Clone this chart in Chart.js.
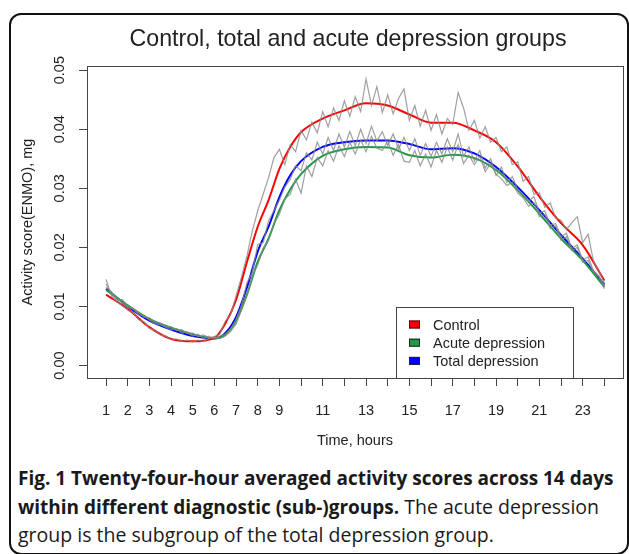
<!DOCTYPE html>
<html>
<head>
<meta charset="utf-8">
<script src="https://cdn.jsdelivr.net/npm/chart.js@4.4.1/dist/chart.umd.min.js"></script>
<style>
  html, body { margin: 0; padding: 0; background: #fff; overflow: hidden; }
  body { width: 629px; height: 554px; position: relative; }
  .frame {
    position: absolute; left: 9px; top: 13px; width: 620px; height: 542px;
    border: 2px solid #111; border-radius: 12px; box-sizing: border-box;
  }
  #chart { position: absolute; left: 0; top: 0; }
  .caption {
    position: absolute; left: 18px; top: 464px; width: 610px;
    font-family: "Open Sans", sans-serif; font-size: 19.5px; line-height: 27.5px;
    color: #1a1a1a; white-space: nowrap;
  }
  .caption b { font-weight: 700; font-size: 19px; }
</style>
</head>
<body>
<div class="frame"></div>
<canvas id="chart" width="629" height="460"></canvas>
<div class="caption"><b>Fig. 1 Twenty-four-hour averaged activity scores across 14 days</b><br><b>within different diagnostic (sub-)groups.</b> The acute depression<br>group is the subgroup of the total depression group.</div>
<script>
// smoothed group curves
const hours = [1, 2, 3, 4, 5, 6, 6.5, 7, 7.5, 8, 8.5, 9, 9.5, 10, 11, 12, 13, 14, 15, 16, 17, 18, 19, 20, 21, 22, 23, 24];
const control = [0.0120, 0.0096, 0.0065, 0.0045, 0.0041, 0.0047, 0.0071, 0.0111, 0.0175, 0.0235, 0.0280, 0.0333, 0.0370, 0.0395,
  0.0418, 0.0432, 0.0444, 0.0440, 0.0425, 0.0411, 0.0411, 0.0398, 0.0378, 0.0337, 0.0286, 0.0241, 0.0204, 0.0144];
const acute = [0.0128, 0.0102, 0.0079, 0.0064, 0.0053, 0.0046, 0.0052, 0.0076, 0.0120, 0.0176, 0.0215, 0.0263, 0.0298, 0.0324,
  0.0355, 0.0366, 0.0370, 0.0369, 0.0356, 0.0352, 0.0357, 0.0351, 0.0331, 0.0297, 0.0257, 0.0215, 0.0178, 0.0133];
const total = [0.0130, 0.0100, 0.0076, 0.0061, 0.0050, 0.0046, 0.0055, 0.0082, 0.0132, 0.0193, 0.0235, 0.0285, 0.0322, 0.0346,
  0.0370, 0.0378, 0.0381, 0.0381, 0.0375, 0.0366, 0.0368, 0.0359, 0.0336, 0.0302, 0.0263, 0.0221, 0.0181, 0.0137];

// raw averages (grey), one value every quarter hour from 1 to 24
const rawStart = 1;
const rawStep = 0.25;
const controlRaw = [
  0.0146, 0.0118, 0.0108, 0.0101,
  0.0094, 0.0089, 0.0078, 0.0074,
  0.0063, 0.0060, 0.0052, 0.0050,
  0.0044, 0.0045, 0.0041, 0.0043,
  0.0040, 0.0043, 0.0041, 0.0046,
  0.0049, 0.0053, 0.0075, 0.0086,
  0.0118, 0.0150, 0.0185, 0.0228,
  0.0262, 0.0290, 0.0318, 0.0352,
  0.0366, 0.0340, 0.0374, 0.0362,
  0.0398, 0.0382, 0.0412, 0.0394,
  0.0430, 0.0404, 0.0436, 0.0415,
  0.0448, 0.0422, 0.0455, 0.0430,
  0.0485, 0.0440, 0.0472, 0.0428,
  0.0458, 0.0426, 0.0452, 0.0468,
  0.0415, 0.0440, 0.0405, 0.0432,
  0.0398, 0.0425, 0.0392, 0.0418,
  0.0408, 0.0462, 0.0436, 0.0398,
  0.0415, 0.0385, 0.0404, 0.0378,
  0.0386, 0.0362, 0.0370, 0.0340,
  0.0345, 0.0312, 0.0320, 0.0290,
  0.0292, 0.0268, 0.0275, 0.0250,
  0.0246, 0.0230, 0.0242, 0.0252,
  0.0208, 0.0222, 0.0176, 0.0160,
  0.0140];
const totalRaw = [
  0.0138, 0.0121, 0.0115, 0.0106,
  0.0098, 0.0096, 0.0086, 0.0084,
  0.0077, 0.0071, 0.0069, 0.0065,
  0.0060, 0.0063, 0.0055, 0.0057,
  0.0050, 0.0053, 0.0046, 0.0050,
  0.0045, 0.0050, 0.0053, 0.0061,
  0.0078, 0.0102, 0.0140, 0.0158,
  0.0205, 0.0208, 0.0245, 0.0262,
  0.0280, 0.0302, 0.0315, 0.0338,
  0.0330, 0.0360, 0.0348, 0.0378,
  0.0358, 0.0386, 0.0364, 0.0392,
  0.0370, 0.0396, 0.0372, 0.0400,
  0.0376, 0.0405, 0.0380, 0.0396,
  0.0372, 0.0392, 0.0366, 0.0386,
  0.0364, 0.0384, 0.0356, 0.0376,
  0.0354, 0.0378, 0.0358, 0.0384,
  0.0362, 0.0392, 0.0354, 0.0370,
  0.0346, 0.0364, 0.0334, 0.0350,
  0.0322, 0.0336, 0.0310, 0.0320,
  0.0298, 0.0290, 0.0278, 0.0286,
  0.0258, 0.0262, 0.0238, 0.0240,
  0.0218, 0.0224, 0.0198, 0.0204,
  0.0178, 0.0184, 0.0160, 0.0152,
  0.0135];
const acuteRaw = [
  0.0132, 0.0125, 0.0110, 0.0112,
  0.0100, 0.0097, 0.0090, 0.0082,
  0.0081, 0.0074, 0.0072, 0.0066,
  0.0066, 0.0059, 0.0061, 0.0054,
  0.0055, 0.0049, 0.0052, 0.0047,
  0.0048, 0.0046, 0.0050, 0.0058,
  0.0070, 0.0094, 0.0118, 0.0152,
  0.0170, 0.0198, 0.0212, 0.0240,
  0.0256, 0.0282, 0.0290, 0.0315,
  0.0292, 0.0338, 0.0320, 0.0352,
  0.0338, 0.0364, 0.0346, 0.0372,
  0.0354, 0.0378, 0.0358, 0.0382,
  0.0362, 0.0388, 0.0368, 0.0364,
  0.0380, 0.0356, 0.0374, 0.0346,
  0.0344, 0.0364, 0.0338, 0.0358,
  0.0336, 0.0364, 0.0344, 0.0370,
  0.0348, 0.0374, 0.0342, 0.0356,
  0.0340, 0.0354, 0.0328, 0.0342,
  0.0324, 0.0316, 0.0305, 0.0310,
  0.0292, 0.0284, 0.0270, 0.0276,
  0.0252, 0.0256, 0.0232, 0.0236,
  0.0212, 0.0218, 0.0194, 0.0200,
  0.0175, 0.0178, 0.0158, 0.0150,
  0.0130];

const xTickLabels = ["1", "2", "3", "4", "5", "6", "7", "8", "9", "11", "13", "15", "17", "19", "21", "23"];
const chartTitle = "Control, total and acute depression groups";

const axisFont = { family: "'Liberation Sans', Arial, sans-serif", size: 14.5 };
const inkColor = "#222";
const frameColor = "#444";

function smoothSet(label, values, color) {
  return {
    label: label,
    data: values.map((v, i) => ({ x: hours[i], y: v })),
    borderColor: color,
    backgroundColor: color,
    borderWidth: 2,
    pointRadius: 0,
    cubicInterpolationMode: "monotone",
    fill: false
  };
}
function rawSet(values) {
  return {
    label: "",
    raw: true,
    data: values.map((v, i) => ({ x: rawStart + i * rawStep, y: v })),
    borderColor: "rgba(135,135,135,0.8)",
    borderWidth: 1.2,
    pointRadius: 0,
    tension: 0,
    fill: false
  };
}

// R-style frame, main title and boxed legend
const rFrame = {
  id: "rFrame",
  afterDraw(chart) {
    const ctx = chart.ctx;
    const a = chart.chartArea;
    ctx.save();
    ctx.strokeStyle = frameColor;
    ctx.lineWidth = 1;
    ctx.strokeRect(a.left + 0.5, a.top + 0.5, a.right - a.left, a.bottom - a.top);

    ctx.fillStyle = inkColor;
    ctx.font = "23.2px 'Liberation Sans', Arial, sans-serif";
    ctx.textAlign = "center";
    ctx.textBaseline = "middle";
    ctx.fillText(chartTitle, 348, 40);

    // legend box
    const lx = 396, ly = 307, lw = 177;
    ctx.fillStyle = "#fff";
    ctx.fillRect(lx, ly, lw, a.bottom - ly);
    ctx.strokeStyle = frameColor;
    ctx.strokeRect(lx + 0.5, ly + 0.5, lw, a.bottom - ly);
    const items = chart.data.datasets.filter(d => !d.raw);
    ctx.font = "14.5px 'Liberation Sans', Arial, sans-serif";
    ctx.textAlign = "left";
    items.forEach((d, i) => {
      const cy = 324.5 + i * 18.2;
      ctx.fillStyle = d.borderColor;
      ctx.fillRect(409, cy - 4, 11, 8);
      ctx.strokeStyle = "#222";
      ctx.strokeRect(409.5, cy - 3.5, 10, 7);
      ctx.fillStyle = inkColor;
      ctx.fillText(d.label, 433, cy + 1);
    });
    ctx.restore();
  }
};

var ctx = document.getElementById("chart").getContext("2d");
var myChart = new Chart(ctx, {
  type: "line",
  data: {
    datasets: [
      rawSet(controlRaw),
      rawSet(totalRaw),
      rawSet(acuteRaw),
      smoothSet("Control", control, "#ff0000"),
      smoothSet("Acute depression", acute, "#1f9a48"),
      smoothSet("Total depression", total, "#0000ff")
    ]
  },
  options: {
    responsive: false,
    animation: false,
    devicePixelRatio: 1,
    layout: { padding: { top: 66, left: 0, right: 6, bottom: 0 } },
    plugins: {
      legend: { display: false },
      title: { display: false },
      tooltip: { enabled: false }
    },
    scales: {
      x: {
        type: "linear",
        min: 0.12,
        max: 24.86,
        afterFit(s) { s.height = 82; },
        border: { display: false },
        grid: { drawOnChartArea: false, drawTicks: true, tickLength: 8, color: frameColor },
        ticks: {
          stepSize: 1,
          includeBounds: false,
          autoSkip: false,
          maxRotation: 0,
          padding: 16,
          color: inkColor,
          font: axisFont,
          callback: v => (xTickLabels.includes(String(v)) ? String(v) : "")
        },
        title: { display: true, text: "Time, hours", color: inkColor, font: axisFont, padding: { top: 0, bottom: 10 } }
      },
      y: {
        type: "linear",
        min: -0.0021,
        max: 0.0507,
        afterFit(s) { s.width = 87; },
        border: { display: false },
        grid: { drawOnChartArea: false, drawTicks: true, tickLength: 8, color: frameColor },
        ticks: {
          stepSize: 0.01,
          includeBounds: false,
          minRotation: 90,
          maxRotation: 90,
          crossAlign: "center",
          padding: 5,
          color: inkColor,
          font: axisFont,
          callback: v => v.toFixed(2)
        },
        title: { display: true, text: "Activity score(ENMO), mg", color: inkColor, font: axisFont, padding: { top: 19, bottom: 0 } }
      }
    }
  },
  plugins: [rFrame]
});
</script>
</body>
</html>
